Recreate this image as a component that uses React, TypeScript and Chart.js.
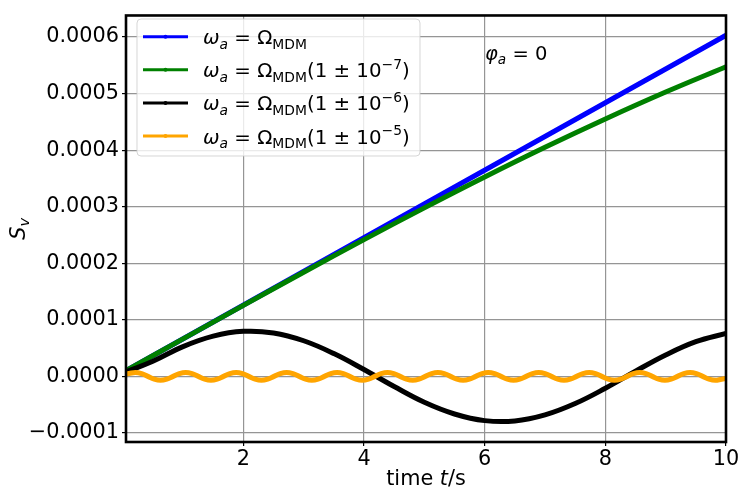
import React, { useEffect, useRef } from "react";
import { Chart, registerables } from "chart.js";

Chart.register(...registerables);

// axis ranges and ticks
const xMin = 0.055;
const xMax = 10;
const yMin = -0.000116;
const yMax = 0.000638;
const xTicks = [2, 4, 6, 8, 10];
const xTickLabels = ["2", "4", "6", "8", "10"];
const yTicks = [-0.0001, 0, 0.0001, 0.0002, 0.0003, 0.0004, 0.0005, 0.0006];
const yTickLabels = ["\u22120.0001", "0.0000", "0.0001", "0.0002", "0.0003", "0.0004", "0.0005", "0.0006"];

// omega_a = Omega_MDM
const blueT = [0.055, 10];
const blueS = [0.00001, 0.000603];

// omega_a = Omega_MDM (1 +- 1e-7)
const greenT = [0.055, 1, 2, 3, 4, 5, 6, 7, 8, 9, 10];
const greenS = [0.00001, 0.0000663, 0.0001256, 0.0001842, 0.0002417, 0.0002979, 0.0003524, 0.0004049, 0.000455, 0.0005026, 0.0005473];

// omega_a = Omega_MDM (1 +- 1e-6)
const blackT = [0.055, 0.5, 1, 1.5, 2, 2.5, 3, 3.5, 4, 4.5, 5, 5.5, 6, 6.5, 7, 7.5, 8, 8.5, 9, 9.5, 10];
const blackS = [
  0.000008, 0.0000267, 0.0000527, 0.0000712, 0.0000796, 0.0000768, 0.000063, 0.0000404, 0.0000121, -0.000018,
  -0.0000458, -0.0000665, -0.0000782, -0.0000788, -0.0000681, -0.000048, -0.000021, 0.0000091, 0.0000378,
  0.0000613, 0.0000761,
];

// omega_a = Omega_MDM (1 +- 1e-5)
const orangeT = [
  0.055, 0.1045, 0.209, 0.3135, 0.418, 0.5225, 0.627, 0.7315, 0.836, 0.9405, 1.045, 1.1495, 1.254, 1.3585, 1.463,
  1.5675, 1.672, 1.7765, 1.881, 1.9855, 2.09, 2.1945, 2.299, 2.4035, 2.508, 2.6125, 2.717, 2.8215, 2.926, 3.0305,
  3.135, 3.2395, 3.344, 3.4485, 3.553, 3.6575, 3.762, 3.8665, 3.971, 4.0755, 4.18, 4.2845, 4.389, 4.4935, 4.598,
  4.7025, 4.807, 4.9115, 5.016, 5.1205, 5.225, 5.3295, 5.434, 5.5385, 5.643, 5.7475, 5.852, 5.9565, 6.061, 6.1655,
  6.27, 6.3745, 6.479, 6.5835, 6.688, 6.7925, 6.897, 7.0015, 7.106, 7.2105, 7.315, 7.4195, 7.524, 7.6285, 7.733,
  7.8375, 7.942, 8.0465, 8.151, 8.2555, 8.36, 8.4645, 8.569, 8.6735, 8.778, 8.8825, 8.987, 9.0915, 9.196, 9.3005,
  9.405, 9.5095, 9.614, 9.7185, 9.823, 9.9275, 10,
];
const orangeS = [
  0.0000045,
  0.000005, 0.000007, 0.000005, 0, -0.000005, -0.000007, -0.000005, 0,
  0.000005, 0.000007, 0.000005, 0, -0.000005, -0.000007, -0.000005, 0,
  0.000005, 0.000007, 0.000005, 0, -0.000005, -0.000007, -0.000005, 0,
  0.000005, 0.000007, 0.000005, 0, -0.000005, -0.000007, -0.000005, 0,
  0.000005, 0.000007, 0.000005, 0, -0.000005, -0.000007, -0.000005, 0,
  0.000005, 0.000007, 0.000005, 0, -0.000005, -0.000007, -0.000005, 0,
  0.000005, 0.000007, 0.000005, 0, -0.000005, -0.000007, -0.000005, 0,
  0.000005, 0.000007, 0.000005, 0, -0.000005, -0.000007, -0.000005, 0,
  0.000005, 0.000007, 0.000005, 0, -0.000005, -0.000007, -0.000005, 0,
  0.000005, 0.000007, 0.000005, 0, -0.000005, -0.000007, -0.000005, 0,
  0.000005, 0.000007, 0.000005, 0, -0.000005, -0.000007, -0.000005, 0,
  0.000005, 0.000007, 0.000005, 0, -0.000005, -0.000007, -0.000005,
  -0.000004,
];

const FONT = '"DejaVu Sans"';
const gridColor = "#959595";

type Run = { text: string; italic?: boolean; sub?: boolean; sup?: boolean };

const runFont = (r: Run, size: number) =>
  `${r.italic ? "italic " : ""}${r.sub || r.sup ? size * 0.7 : size}px ${FONT}`;

function runsWidth(ctx: CanvasRenderingContext2D, runs: Run[], size: number) {
  let w = 0;
  for (const r of runs) {
    ctx.font = runFont(r, size);
    w += ctx.measureText(r.text).width;
  }
  return w;
}

function drawRuns(ctx: CanvasRenderingContext2D, runs: Run[], x: number, y: number, size: number) {
  let cx = x;
  ctx.textBaseline = "alphabetic";
  ctx.textAlign = "left";
  for (const r of runs) {
    ctx.font = runFont(r, size);
    const dy = r.sub ? size * 0.22 : r.sup ? -size * 0.42 : 0;
    ctx.fillText(r.text, cx, y + dy);
    cx += ctx.measureText(r.text).width;
  }
}

const base: Run[] = [
  { text: "\u03c9", italic: true },
  { text: "a", italic: true, sub: true },
  { text: " = \u03a9" },
  { text: "MDM", sub: true },
];
const withExp = (e: string): Run[] => [...base, { text: "(1 \u00b1 10" }, { text: "\u2212" + e, sup: true }, { text: ")" }];

const legendItems = [
  { color: "#0000ff", runs: base },
  { color: "#008000", runs: withExp("7") },
  { color: "#000000", runs: withExp("6") },
  { color: "#ffa500", runs: withExp("5") },
];

const decorations = {
  id: "decorations",
  afterDraw(chart: Chart) {
    const { ctx, chartArea } = chart;
    const { left, right, top, bottom } = chartArea;
    ctx.save();

    // frame
    ctx.strokeStyle = "#000";
    ctx.lineWidth = 2.6;
    ctx.strokeRect(left, top, right - left, bottom - top);

    // legend box
    ctx.beginPath();
    ctx.roundRect(137, 19, 283, 137, 4);
    ctx.fillStyle = "rgba(255,255,255,0.8)";
    ctx.fill();
    ctx.strokeStyle = "rgba(204,204,204,0.8)";
    ctx.lineWidth = 1;
    ctx.stroke();

    legendItems.forEach((it, i) => {
      const y = 36.7 + i * 33.1;
      ctx.strokeStyle = it.color;
      ctx.lineWidth = 3;
      ctx.beginPath();
      ctx.moveTo(143, y);
      ctx.lineTo(188, y);
      ctx.stroke();
      ctx.fillStyle = it.color;
      ctx.beginPath();
      ctx.arc(165.5, y, 2, 0, Math.PI * 2);
      ctx.fill();
      ctx.fillStyle = "#000";
      drawRuns(ctx, it.runs, 203, y + 7.5, 19.8);
    });

    // phase annotation
    ctx.fillStyle = "#000";
    drawRuns(
      ctx,
      [{ text: "\u03c6", italic: true }, { text: "a", italic: true, sub: true }, { text: " = 0" }],
      485,
      60,
      19.5
    );

    // x axis title
    const xRuns: Run[] = [{ text: "time " }, { text: "t", italic: true }, { text: "/s" }];
    const xw = runsWidth(ctx, xRuns, 20.8);
    drawRuns(ctx, xRuns, (left + right) / 2 - xw / 2, 485, 20.8);

    // y axis title
    const yRuns: Run[] = [{ text: "S", italic: true }, { text: "v", italic: true, sub: true }];
    const yw = runsWidth(ctx, yRuns, 20.8);
    ctx.translate(24.5, (top + bottom) / 2);
    ctx.rotate(-Math.PI / 2);
    drawRuns(ctx, yRuns, -yw / 2, 0, 20.8);

    ctx.restore();
  },
};

const toPoints = (t: number[], s: number[]) => t.map((x, i) => ({ x, y: s[i] }));

export default function App() {
  const canvasRef = useRef<HTMLCanvasElement>(null);

  useEffect(() => {
    if (!canvasRef.current) return;
    const line = (data: { x: number; y: number }[], color: string, order: number) => ({
      data,
      borderColor: color,
      backgroundColor: color,
      borderWidth: 5,
      pointRadius: 0,
      tension: 0.4,
      fill: false,
      order,
    });
    const chart = new Chart(canvasRef.current, {
      type: "line",
      data: {
        datasets: [
          line(toPoints(blueT, blueS), "#0000ff", 4),
          line(toPoints(greenT, greenS), "#008000", 3),
          line(toPoints(blackT, blackS), "#000000", 2),
          line(toPoints(orangeT, orangeS), "#ffa500", 1),
        ],
      },
      options: {
        animation: false,
        responsive: true,
        maintainAspectRatio: false,
        layout: { padding: { top: 7.5, right: 21, left: 0, bottom: 0 } },
        plugins: { legend: { display: false }, tooltip: { enabled: false } },
        scales: {
          x: {
            type: "linear",
            min: xMin,
            max: xMax,
            afterBuildTicks: (s: any) => {
              s.ticks = xTicks.map((v) => ({ value: v }));
            },
            afterFit: (s: any) => {
              s.height = 56;
            },
            grid: { color: gridColor, lineWidth: 1.2, tickLength: 4, tickColor: "#000", tickWidth: 1.2 },
            border: { display: false },
            ticks: {
              color: "#000",
              font: { family: FONT, size: 20.8 },
              padding: 1,
              maxRotation: 0,
              autoSkip: false,
              callback: (_v: any, i: number) => xTickLabels[i],
            },
          },
          y: {
            type: "linear",
            min: yMin,
            max: yMax,
            afterBuildTicks: (s: any) => {
              s.ticks = yTicks.map((v) => ({ value: v }));
            },
            afterFit: (s: any) => {
              s.width = 126;
            },
            grid: { color: gridColor, lineWidth: 1.2, tickLength: 4, tickColor: "#000", tickWidth: 1.2 },
            border: { display: false },
            ticks: {
              color: "#000",
              font: { family: FONT, size: 20.8 },
              padding: 3,
              autoSkip: false,
              callback: (_v: any, i: number) => yTickLabels[i],
            },
          },
        },
      },
      plugins: [decorations],
    });
    return () => chart.destroy();
  }, []);

  return (
    <div style={{ position: "fixed", left: 0, top: 0, width: 747, height: 498, background: "#fff" }}>
      <canvas ref={canvasRef} />
    </div>
  );
}
